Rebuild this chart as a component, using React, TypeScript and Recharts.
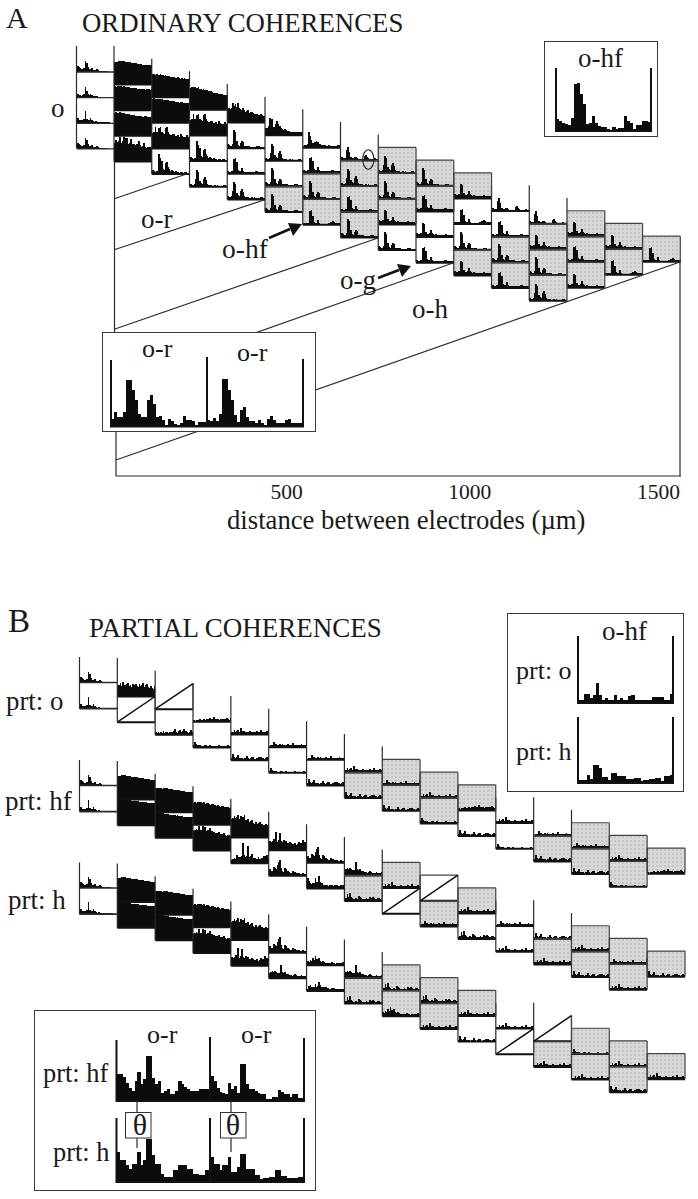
import React from "react";
import { BarChart, Bar, XAxis, YAxis, ComposedChart, Line } from "recharts";

// ---------- values: spectra in the small panels (30 bins) ----------
const O1 = [6,5,4,3,3,4,11,9,5,3,3,4,2,2,2,3,2,1,1,1,1,1,1,1,0,0,0,0,0,0];
const O2 = [4,3,3,2,3,4,11,7,4,3,4,3,2,2,2,2,1,1,1,1,1,1,1,1,1,0,0,0,0,0];
const O3 = [5,3,3,3,2,4,12,4,3,3,5,3,2,1,2,1,1,1,1,1,1,1,1,1,1,1,0,0,0,0];
const H1 = [23,23,23,24,24,24,24,24,23,23,23,23,23,22,22,22,22,22,21,21,21,21,20,20,20,20,20,19,20,20];
const H2 = [24,23,24,24,24,24,23,24,23,23,23,23,22,22,22,22,22,22,21,21,21,21,21,21,20,21,21,21,20,21];
const H3 = [23,24,23,23,24,23,23,23,22,22,22,22,21,21,21,21,20,20,20,20,20,20,19,19,20,20,19,19,19,20];
const H4 = [24,25,24,24,24,24,24,24,23,23,23,23,23,22,22,22,22,22,21,21,21,20,21,21,20,20,20,20,20,20];
const H5 = [22,23,23,23,22,22,23,21,21,20,21,20,19,20,19,18,19,18,17,17,17,17,16,16,16,16,15,15,15,15];
const H6 = [23,23,22,23,22,22,23,22,22,21,22,21,21,21,20,20,20,20,19,19,20,19,18,19,18,19,18,18,18,18];
const M1 = [18,21,19,20,24,18,20,24,18,23,23,17,18,22,17,17,16,17,17,20,16,14,15,18,14,13,14,14,14,14];
const M2 = [15,16,21,16,15,20,21,16,15,14,20,21,16,14,13,13,14,14,12,11,13,11,14,12,11,11,11,13,11,11];
const M3 = [13,14,13,14,19,16,18,15,19,14,13,12,14,12,10,11,12,9,10,10,9,8,8,8,7,7,8,7,6,6];
const L1 = [7,7,9,17,13,16,8,8,11,14,11,9,7,6,5,6,5,4,4,3,3,3,3,3,3,3,3,3,3,3];
const L2 = [2,3,3,4,16,12,8,5,4,6,7,6,4,4,3,3,3,3,2,2,3,2,2,2,2,2,2,3,3,2];
const P1 = [4,3,2,3,2,20,16,13,5,4,11,12,7,5,3,4,3,2,3,2,2,1,2,2,1,2,2,1,1,2];
const P2 = [3,2,2,3,8,17,15,6,4,3,8,10,7,3,2,2,2,1,1,2,1,2,1,1,1,1,2,2,1,1];
const P3 = [4,3,2,2,4,18,16,7,3,2,5,7,6,2,2,1,2,2,1,1,1,1,1,2,2,2,1,1,1,1];
const P4 = [3,2,2,3,3,15,16,12,4,3,3,6,3,2,2,2,2,2,2,1,2,2,3,3,2,2,2,2,2,2];
const P5 = [4,3,3,4,3,14,13,5,3,3,4,7,4,3,2,3,2,2,2,2,2,2,2,3,2,2,2,2,2,1];
const P6 = [2,2,2,2,2,14,15,9,3,2,2,5,2,1,1,1,1,1,1,1,2,3,3,4,3,2,2,1,2,2];
const P7 = [3,2,2,2,10,13,8,3,2,2,3,3,2,1,1,1,1,1,4,5,3,2,1,1,1,1,2,1,1,1];
const K1 = [24,24,24,25,24,25,25,24,24,24,24,23,23,23,23,23,22,22,22,22,22,21,21,21,21,21,20,20,20,20];
const K2 = [26,26,26,25,25,26,25,25,25,25,25,24,24,24,24,24,24,23,23,23,23,23,23,22,22,22,22,22,22,22];
const K3 = [24,24,24,24,24,23,24,24,23,24,23,23,23,23,22,22,22,22,22,21,21,21,21,20,20,20,20,20,20,20];
const K4 = [25,26,25,25,25,25,25,24,24,24,24,23,23,23,23,23,22,23,22,22,22,22,21,21,21,21,21,21,21,21];
const K5 = [22,23,22,23,23,23,23,22,23,21,22,22,21,20,21,21,20,20,19,20,19,18,19,19,18,18,18,18,17,18];
const K6 = [19,20,21,20,24,20,20,24,20,23,19,20,19,22,19,18,18,17,17,17,18,16,16,15,17,15,14,15,15,14];
const K7 = [18,19,21,19,20,22,18,21,19,20,22,17,17,18,15,16,17,14,13,15,13,14,15,12,13,12,12,13,12,13];
const Q1 = [3,4,5,4,8,6,6,6,7,20,8,6,7,17,6,7,9,5,5,4,4,6,4,4,5,7,7,6,8,4];
const Q2 = [9,8,9,11,9,18,8,10,17,9,8,10,7,9,7,7,8,7,6,6,7,5,6,8,7,7,10,5,8,7];
const Q3 = [7,5,5,9,8,7,11,14,16,8,5,4,8,7,5,4,3,3,5,3,4,3,3,3,2,2,3,2,2,3];
const Q4 = [10,7,5,4,5,5,10,6,6,12,6,5,3,3,3,3,2,3,3,3,2,3,3,3,2,2,3,2,3,2];
const R1 = [5,6,7,6,7,6,5,5,5,13,6,5,6,4,4,3,3,3,2,3,4,3,2,2,2,3,2,2,2,3];
const R2 = [2,3,7,4,8,4,3,2,2,3,2,5,4,3,2,2,2,3,2,2,4,3,4,3,2,2,3,3,2,2];
const R3 = [4,3,5,4,7,5,9,6,5,7,4,3,4,3,2,2,2,2,2,3,2,2,1,2,2,2,2,2,3,2];
const R4 = [2,5,6,4,3,4,7,4,5,9,6,4,3,4,4,3,3,2,2,3,3,3,2,2,2,2,2,2,2,2];
const N1 = [11,12,14,11,15,12,12,13,14,11,12,10,13,12,13,11,10,13,11,12,14,10,12,13,10,9,11,9,8,11];
const B1 = [3,2,3,2,3,2,4,2,3,3,2,3,2,3,4,6,3,2,4,5,3,4,6,3,4,3,2,3,5,3];
const B2 = [2,1,2,2,2,3,2,2,3,2,3,3,3,4,3,3,5,3,3,3,2,3,3,3,3,3,4,3,2,4];
const B3 = [2,5,3,2,2,2,1,1,1,2,2,1,1,2,1,1,1,1,1,1,2,1,1,1,1,1,1,2,1,1];
const B4 = [2,2,4,2,3,4,2,6,2,3,3,2,2,2,3,2,2,2,2,2,3,2,2,4,2,2,2,2,3,2];
const B5 = [2,6,3,2,3,5,2,2,2,1,2,2,4,2,1,2,3,3,1,1,2,3,3,3,2,2,1,2,3,2];
const B6 = [1,2,2,5,2,3,2,2,3,2,3,2,2,2,3,2,2,2,4,2,2,2,2,2,2,3,2,2,2,5];

// ---------- values of the enlarged insets (32 bins per spectrum) ----------
const insetOrLeft = [8,15,10,10,15,47,47,37,27,13,10,10,27,32,23,10,11,7,2,8,6,3,2,4,11,7,7,6,2,5,5,5];
const insetOrRight = [7,6,9,6,13,48,48,37,27,12,5,17,20,10,6,6,4,7,4,2,8,11,7,4,4,4,7,8,4,4,4,4];
const insetOhf = [12,10,8,7,6,13,47,48,37,27,7,8,15,8,5,4,4,2,1,4,2,3,3,15,10,8,2,6,6,10,10,9];
const insetPrtO = [3,3,9,9,5,8,20,8,3,5,3,3,8,3,5,3,3,7,8,3,3,3,3,3,3,6,6,6,6,3,3,9];
const insetPrtH = [3,3,3,8,4,18,18,15,6,6,3,10,10,7,7,7,4,4,4,5,5,2,3,3,4,4,5,5,2,7,7,8];
const insetHfLeft = [27,27,24,18,13,10,20,29,17,22,45,45,23,17,20,8,10,12,7,7,10,20,17,14,12,10,10,10,12,12,12,12];
const insetHfRight = [25,20,13,9,8,7,18,12,15,8,37,37,17,12,12,10,8,7,7,2,2,4,4,11,9,7,7,4,7,7,3,3];
const insetHLeft = [30,22,22,17,13,18,18,30,17,22,43,43,27,18,18,8,5,5,5,12,12,17,17,17,13,13,8,8,7,7,12,12];
const insetHRight = [25,18,18,12,17,17,25,10,10,15,28,28,13,13,13,7,7,3,4,4,5,5,12,12,6,6,4,4,4,4,5,5];

// ---------- which spectrum is in which cell: [kind, spectrum]; w white, g grey, d diagonal, D diagonal with top ----------
type Cell = [string, number[] | null];
const w = (s: number[]): Cell => ["w", s];
const g = (s: number[]): Cell => ["g", s];
const d: Cell = ["d", null];
const D: Cell = ["D", null];

const orderA: Cell[][] = [
  [w(H1), w(H2), w(H3), w(M1)],
  [w(H6), w(H4), w(M2), w(P1)],
  [w(H5), w(M2), w(P1), w(P2)],
  [w(M3), w(P3), w(P4), w(P2)],
  [w(L1), w(P2), w(P3), g(P3)],
  [w(L2), w(P4), g(P3), g(P6)],
  [w(P7), g(P2), g(P4), g(P3)],
  [g(P2), g(P3), g(P5), w(P3)],
  [g(P3), g(P4), w(P5), w(P4)],
  [g(P5), w(P6), w(P3), g(P5)],
  [w(P7), w(P4), g(P3), g(P4)],
  [w(P7), g(P5), g(P3), g(P2)],
  [g(P5), g(P4), g(P5)],
  [g(P5), g(P6)],
  [g(P6)],
];
const firstColA = [O1, O2, O3, O1];

const orderO: Cell[][] = [
  [w(N1), d], [d, w(B1)], [w(B2), w(B3)], [w(B4), w(B5)], [w(B6), w(B3)], [w(B6), w(B5)], [w(B4), g(B5)],
  [g(B6), g(B5)], [g(B4), g(B3)], [g(B2), w(B5)], [w(B4), w(B3)], [w(B6), g(B5)], [g(B6), g(B5)], [g(B4), g(B3)], [g(B2)],
];
const orderHf: Cell[][] = [
  [w(K1), w(K2)], [w(K3), w(K4)], [w(K5), w(K6)], [w(K7), w(Q1)], [w(Q2), w(Q3)], [w(Q3), w(Q4)], [w(R1), g(R2)],
  [g(B4), d], [D, g(B6)], [g(B4), w(R2)], [w(B6), w(B4)], [w(B5), g(B4)], [g(B4), g(B5)], [g(B6), g(B4)], [g(B5)],
];
const orderH: Cell[][] = [
  [w(K1), w(K2)], [w(K3), w(K4)], [w(K5), w(K6)], [w(K7), w(Q2)], [w(Q3), w(R1)], [w(R3), w(R4)], [w(R1), g(R2)],
  [g(R2), g(R3)], [g(R2), g(B4)], [g(B4), w(B5)], [w(B4), d], [d, g(B4)], [g(B3), g(B4)], [g(B4), g(B5)], [g(B4)],
];

const axisTicks = [500, 1000, 1500];

// ---------- page geometry ----------
const ROW = 25.65;
const INK = "#2b2b2b";
const GREY = "#d8d8d8";
type Seg = [number, number, number, number, number?, string?];

const toData = (a: number[]) => a.map((v, i) => ({ bin: i, v }));
const miniBar = (p: any) => <rect x={p.x} y={p.y} width={1.8} height={p.height} fill="#0c0c0c" shapeRendering="crispEdges" />;
const wideBar = (p: any) => <rect x={p.x} y={p.y} width={3.2} height={p.height} fill="#0c0c0c" shapeRendering="crispEdges" />;

function Mini({ left, base, values, grey }: { left: number; base: number; values: number[] | null; grey: boolean }) {
  return (
    <>
      {grey && (
        <div
          style={{
            position: "absolute", left, top: base - ROW, width: 37.8, height: ROW, background: GREY,
            backgroundImage: "radial-gradient(#c4c4c4 0.7px, transparent 0.8px)", backgroundSize: "4px 4px",
          }}
        />
      )}
      {values && (
        <div style={{ position: "absolute", left, top: base - 26, width: 38, height: 26 }}>
          <BarChart width={38} height={26} data={toData(values)} margin={{ top: 0, right: 0, bottom: 0, left: 0 }} barCategoryGap={0}>
            <XAxis dataKey="bin" hide />
            <YAxis hide domain={[0, 26]} />
            <Bar dataKey="v" shape={miniBar} isAnimationActive={false} />
          </BarChart>
        </div>
      )}
    </>
  );
}

function Frame({ segs }: { segs: Seg[] }) {
  const groups = new Map<string, { x: number; y: number | null }[]>();
  segs.forEach((s) => {
    const key = `${s[4] ?? 1.2}|${s[5] ?? INK}`;
    const pts = groups.get(key) ?? [];
    pts.push({ x: s[0], y: s[1] }, { x: s[2], y: s[3] }, { x: s[2], y: null });
    groups.set(key, pts);
  });
  return (
    <div style={{ position: "absolute", left: 0, top: 0, width: 698, height: 1199, pointerEvents: "none" }}>
      <ComposedChart width={698} height={1199} margin={{ top: 0, right: 0, bottom: 0, left: 0 }}>
        <XAxis type="number" dataKey="x" hide domain={[0, 698]} allowDataOverflow />
        <YAxis type="number" hide domain={[0, 1199]} reversed allowDataOverflow />
        {[...groups.entries()].map(([key, pts]) => {
          const [sw, color] = key.split("|");
          return (
            <Line
              key={key}
              data={pts}
              dataKey="y"
              stroke={color}
              strokeWidth={Number(sw)}
              dot={false}
              activeDot={false}
              connectNulls={false}
              isAnimationActive={false}
            />
          );
        })}
      </ComposedChart>
    </div>
  );
}

function Inset({ left, top, width, height, series }: { left: number; top: number; width: number; height: number; series: number[] }) {
  return (
    <div style={{ position: "absolute", left, top, width, height }}>
      <BarChart width={width} height={height} data={toData(series)} margin={{ top: 0, right: 0, bottom: 0, left: 0 }} barCategoryGap={0}>
        <XAxis dataKey="bin" hide />
        <YAxis hide domain={[0, height]} />
        <Bar dataKey="v" shape={wideBar} isAnimationActive={false} />
      </BarChart>
    </div>
  );
}

function InsetBox({ x, y, w: bw, h }: { x: number; y: number; w: number; h: number }) {
  return (
    <div style={{ position: "absolute", left: x, top: y, width: bw, height: h, boxSizing: "border-box", background: "#fff", border: "1.3px solid #3a3a3a" }} />
  );
}

const COL = 37.75;
const ST = 12.66;

const cellsA = orderA.flatMap((col, i) =>
  col.map((cell, r) => ({ key: `a${i}-${r}`, left: 114 + COL * i, base: 84.5 + ST * i + ROW * r, cell, i, r }))
);
const staircases: [Cell[][], number, string][] = [[orderO, 696.5, "o"], [orderHf, 799.5, "f"], [orderH, 902, "h"]];
const cellsB = staircases.flatMap(([order, y0, n]) =>
  order.flatMap((col, i) =>
    col.map((cell, r) => ({ key: `${n}${i}-${r}`, left: 117.3 + 37.85 * i, base: y0 + ST * i + ROW * r, cell, i, r }))
  )
);

// spines that rise above their first cell
const tallA = [0, 1, 2, 3, 4, 5, 6, 7, 11, 12];
const tallB = [0, 1, 2, 3, 4, 5, 6, 7, 11, 12];

const segs: Seg[] = [];
[...cellsA, ...cellsB].forEach(({ left, base, cell }) => {
  const [kind] = cell;
  const right = left + 37.8;
  const top = base - ROW;
  segs.push([left, base, right, base, 2, "#111"]);
  segs.push([left, top, left, base, 1.2]);
  if (kind === "g") {
    segs.push([left, top, right, top, 1.2, "#444"]);
    segs.push([right, top, right, base, 1.2, "#444"]);
  }
  if (kind === "d" || kind === "D") {
    segs.push([left, base, right, top, 1.5, "#111"]);
    segs.push([right, top, right, base, 1.2, "#444"]);
  }
  if (kind === "D") segs.push([left, top, right, top, 1.2, "#444"]);
});
tallA.forEach((i) => {
  const x = 114 + COL * i;
  const b = 84.5 + ST * i;
  segs.push([x, b - 38.5, x, b, 1.2]);
});
staircases.forEach(([, y0]) => {
  tallB.forEach((i) => {
    const x = 117.3 + 37.85 * i;
    const b = y0 + ST * i;
    segs.push([x, b - 38.5, x, b, 1.2]);
  });
});
// first columns
firstColA.forEach((_, r) => {
  const b = 72 + ROW * r;
  segs.push([76.5, b, 114, b, 1.3]);
});
segs.push([76.5, 46, 76.5, 148, 1.2]);
staircases.forEach(([, y0]) => {
  const b1 = y0 - 14;
  segs.push([79.5, b1, 117, b1, 1.4], [79.5, b1 + ROW + 0.5, 117, b1 + ROW + 0.5, 1.6], [79.5, b1 - 25.5, 79.5, b1 + ROW + 0.5, 1.2]);
});
// connectors of panel A
segs.push(
  [114.5, 162, 114.5, 340, 1.2],
  [116, 425, 116, 476, 1.2],
  [116, 476, 681, 476, 1.2],
  [680, 262, 680, 476, 1.2],
  [115, 198.5, 188, 173.5, 1.2],
  [115, 249.5, 264, 200, 1.2],
  [115, 329, 378, 238, 1.2],
  [116, 382, 453, 263, 1.2],
  [116, 460, 680, 262, 1.2]
);

const spinesOver: Seg[] = [
  // o-r inset
  [111, 360, 111, 427, 2, "#111"], [207, 357, 207, 427, 2, "#111"], [303, 359, 303, 427, 2, "#111"], [110, 426.5, 304, 426.5, 2, "#111"],
  // o-hf inset
  [556, 68, 556, 132, 2, "#111"], [651, 68, 651, 132, 2, "#111"], [555, 131, 652, 131, 2, "#111"],
  // prt o-hf inset
  [578, 636, 578, 704, 2, "#111"], [673, 636, 673, 704, 2, "#111"], [577, 703, 674, 703, 2, "#111"],
  [578, 717, 578, 784, 2, "#111"], [673, 717, 673, 784, 2, "#111"], [577, 783, 674, 783, 2, "#111"],
  // bottom inset
  [116.5, 1040, 116.5, 1102, 2, "#111"], [210, 1037, 210, 1102, 2, "#111"], [304, 1038, 304, 1102, 2, "#111"], [116, 1101, 305, 1101, 2, "#111"],
  [116.5, 1118, 116.5, 1183, 2, "#111"], [210, 1118, 210, 1183, 2, "#111"], [304, 1118, 304, 1183, 2, "#111"], [116, 1182, 305, 1182, 2, "#111"],
  [137, 1101, 137, 1112, 1.2], [137, 1138, 137, 1148, 1.2], [231, 1101, 231, 1112, 1.2], [231, 1138, 231, 1152, 1.2],
];

const serif = "'Liberation Serif', serif";
const labels: [string, number, number, number][] = [
  ["A", 6, 28, 30],
  ["ORDINARY COHERENCES", 82, 32, 26.8],
  ["o", 51, 117, 27],
  ["o-r", 141, 228, 27],
  ["o-hf", 222, 258, 27.5],
  ["o-g", 340, 289, 27],
  ["o-h", 412, 318, 27],
  ["o-hf", 578, 67, 27],
  ["o-r", 142, 357, 26],
  ["o-r", 237, 361, 26],
  ["distance between electrodes (\u00b5m)", 227, 529, 26.7],
  ["B", 8, 632, 33],
  ["PARTIAL COHERENCES", 89, 637, 27],
  ["prt: o", 6, 710, 26.8],
  ["prt: hf", 5, 810, 27],
  ["prt: h", 8, 909, 27],
  ["o-hf", 602, 640, 27],
  ["prt: o", 516, 679, 26],
  ["prt: h", 516, 760, 26],
  ["prt: hf", 43, 1082, 26.4],
  ["prt: h", 53, 1161, 26.4],
  ["o-r", 147, 1043, 26],
  ["o-r", 241, 1043, 26],
];

function Overlay() {
  return (
    <svg width={698} height={1199} style={{ position: "absolute", left: 0, top: 0, pointerEvents: "none" }}>
      {labels.map(([t, x, y, fs], i) => (
        <text key={i} x={x} y={y} fontFamily={serif} fontSize={fs} fill="#1a1a1a">{t}</text>
      ))}
      {/* arrows */}
      <line x1={269} y1={238} x2={290} y2={229} stroke="#111" strokeWidth={2.6} />
      <polygon points="302,224 288,223 293,236" fill="#111" />
      <line x1={378} y1={278} x2={399} y2={270} stroke="#111" strokeWidth={2.6} />
      <polygon points="411,266 397,264 402,277" fill="#111" />
      {/* theta mark in panel A */}
      <ellipse cx={368.3} cy={159.5} rx={5.6} ry={9.7} fill="none" stroke="#222" strokeWidth={1.1} />
      <line x1={363} y1={160} x2={374} y2={160} stroke="#222" strokeWidth={1.1} />
      {/* theta boxes */}
      <rect x={125.5} y={1112.5} width={25.5} height={25.5} fill="#fff" stroke="#333" strokeWidth={1} />
      <rect x={220.5} y={1112.5} width={25.5} height={25.5} fill="#fff" stroke="#333" strokeWidth={1} />
      <text x={140} y={1135} textAnchor="middle" fontFamily={serif} fontSize={30} fill="#1a1a1a">{"\u03b8"}</text>
      <text x={233} y={1135} textAnchor="middle" fontFamily={serif} fontSize={30} fill="#1a1a1a">{"\u03b8"}</text>
    </svg>
  );
}

function AxisA() {
  return (
    <div style={{ position: "absolute", left: 114, top: 470, width: 568, height: 44 }}>
      <ComposedChart width={568} height={44} data={[{ um: 0 }, { um: 1500 }]} margin={{ top: 6, right: 2, bottom: 8, left: 0 }}>
        <XAxis
          type="number"
          dataKey="um"
          domain={[0, 1500]}
          ticks={axisTicks}
          axisLine={false}
          tickLine={false}
          interval={0}
          tick={{ fontFamily: serif, fontSize: 21.5, fill: "#1a1a1a", textAnchor: "end" }}
          height={30}
        />
      </ComposedChart>
    </div>
  );
}

export default function App() {
  return (
    <div style={{ position: "absolute", left: 0, top: 0, width: 698, height: 1199, background: "#fff", overflow: "hidden" }}>
      {[...cellsA, ...cellsB].map((c) => (
        <Mini key={c.key} left={c.left} base={c.base} values={c.cell[1]} grey={c.cell[0] === "g"} />
      ))}
      {firstColA.map((s, r) => (
        <Mini key={`o${r}`} left={76.5} base={72 + ROW * r} values={s} grey={false} />
      ))}
      {staircases.map(([, y0], n) => (
        <React.Fragment key={n}>
          <Mini left={79.5} base={y0 - 14} values={O1} grey={false} />
          <Mini left={79.5} base={y0 - 14 + ROW + 0.5} values={O3} grey={false} />
        </React.Fragment>
      ))}
      <Frame segs={segs} />
      <AxisA />
      <InsetBox x={102} y={332} w={214} h={100} />
      <InsetBox x={544} y={41} w={114} h={96} />
      <InsetBox x={507} y={613} w={177} h={179} />
      <InsetBox x={34} y={1010} w={282} h={181} />
      <Inset left={111} top={337} width={192} height={90} series={[...insetOrLeft, ...insetOrRight]} />
      <Inset left={556} top={71} width={95} height={60} series={insetOhf} />
      <Inset left={578} top={640} width={95} height={63} series={insetPrtO} />
      <Inset left={578} top={720} width={95} height={63} series={insetPrtH} />
      <Inset left={117} top={1040} width={187} height={61} series={[...insetHfLeft, ...insetHfRight]} />
      <Inset left={117} top={1121} width={187} height={61} series={[...insetHLeft, ...insetHRight]} />
      <Frame segs={spinesOver} />
      <Overlay />
    </div>
  );
}
